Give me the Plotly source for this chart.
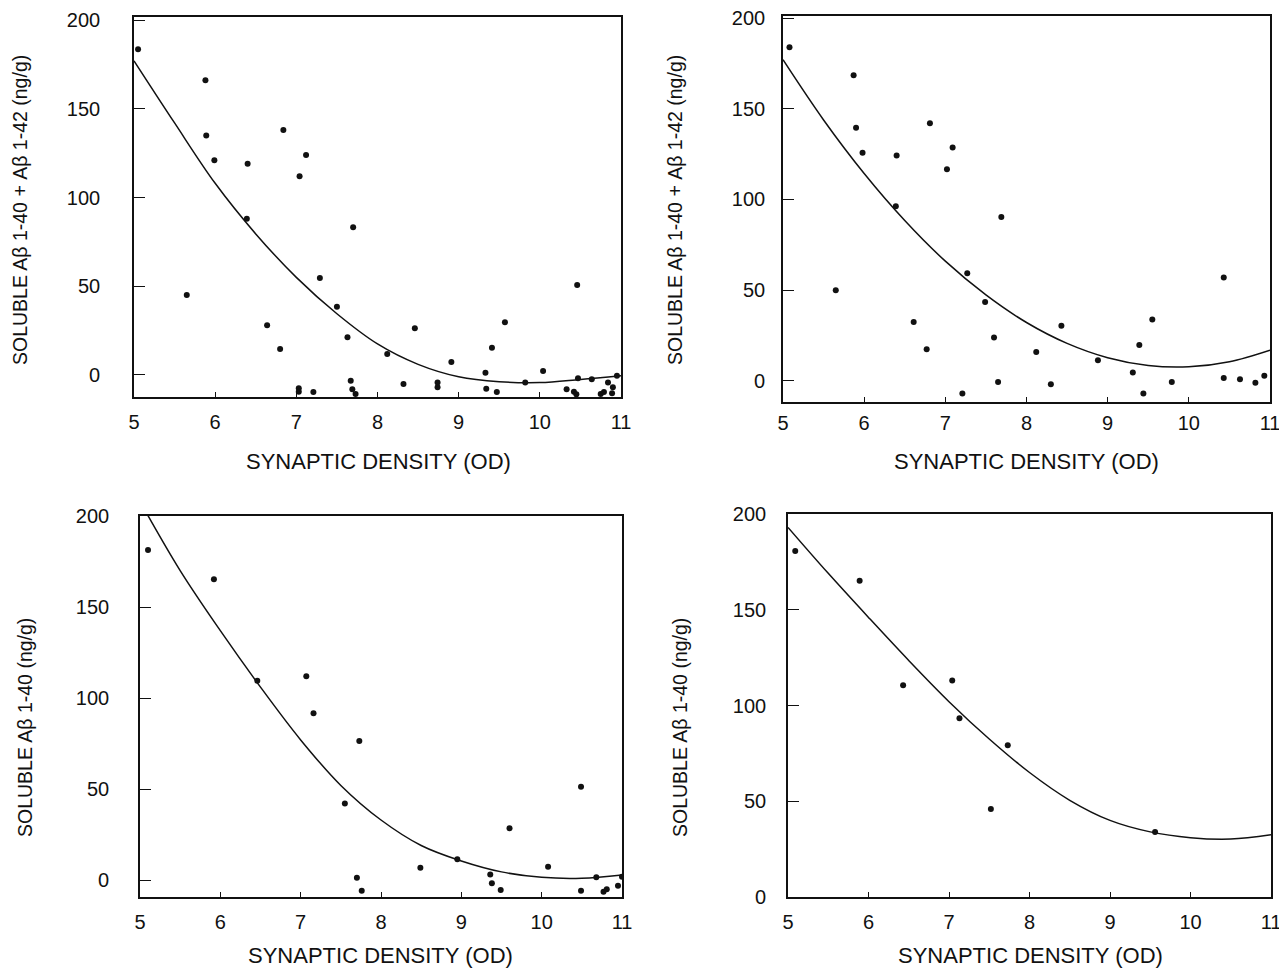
import plotly.graph_objects as go

# ---------------- data ----------------
# Panel 1: soluble Ab1-40 + Ab1-42 (all cases)
p1_x = [5.05, 5.65, 5.88, 5.89, 5.99, 6.40, 6.39, 6.64, 6.80, 6.84, 7.04, 7.12,
        7.03, 7.03, 7.21, 7.29, 7.50, 7.63, 7.67, 7.69, 7.73, 7.70, 8.12, 8.32,
        8.46, 8.74, 8.74, 8.91, 9.33, 9.34, 9.41, 9.47, 9.57, 9.82, 10.04, 10.33,
        10.42, 10.45, 10.46, 10.47, 10.64, 10.75, 10.79, 10.84, 10.89, 10.90, 10.95]
p1_y = [183.5, 45, 166, 135, 121, 119, 88, 28, 14.6, 138, 112, 124,
        -7.5, -9.5, -9.6, 54.6, 38.5, 21.2, -3.2, -8.1, -10.7, 83.2, 11.8, -5.1,
        26.3, -4.3, -6.9, 7.3, 1.3, -7.7, 15.4, -9.6, 29.7, -4.3, 2.3, -8.1,
        -9.4, -10.9, 50.7, -1.9, -2.4, -10.7, -9.6, -4.3, -10.3, -6.9, -0.4]
p1_fit_x = [5, 5.5, 6, 6.5, 7, 7.5, 8, 8.5, 9, 9.5, 10, 10.5, 11]
p1_fit_y = [177, 142, 108, 79.5, 55, 34.5, 17.5, 6, -1, -3.8, -4.3, -2.5, -0.4]

# Panel 2: soluble Ab1-40 + Ab1-42
p2_x = [5.08, 5.87, 5.90, 5.98, 6.40, 6.39, 5.65, 6.81, 7.09, 7.02, 7.69, 7.27,
        7.49, 6.61, 6.77, 7.60, 8.43, 8.12, 8.88, 9.55, 9.39, 9.31, 9.79, 10.43,
        10.43, 10.63, 10.82, 10.93, 7.65, 7.21, 8.30, 9.44]
p2_y = [183.9, 168.4, 139.5, 125.8, 124.2, 96.3, 50, 142, 128.6, 116.7, 90.4, 59.3,
        43.5, 32.5, 17.5, 23.9, 30.4, 15.9, 11.4, 33.9, 19.8, 4.7, -0.6, 57,
        1.6, 1, -1, 2.9, -0.6, -6.9, -1.8, -6.9]
p2_fit_x = [5, 5.5, 6, 6.5, 7, 7.5, 8, 8.5, 9, 9.5, 10, 10.5, 11]
p2_fit_y = [177, 143.8, 114.3, 88.4, 66, 47.4, 32.2, 20.7, 12.8, 8.5, 7.8, 10.6, 17]

# Panel 3: soluble Ab1-40
p3_x = [5.10, 5.92, 6.46, 7.07, 7.16, 7.73, 7.55, 7.70, 7.76, 8.49, 8.95, 9.60,
        9.36, 9.38, 9.49, 10.08, 10.49, 10.49, 10.68, 10.77, 10.81, 10.95, 11.0]
p3_y = [181.3, 165.2, 109.5, 112, 91.6, 76.4, 42.1, 1.3, -5.9, 6.8, 11.4, 28.4,
        3.1, -1.8, -5.5, 7.3, 51.3, -5.9, 1.5, -6.4, -5.1, -3.1, 1.8]
p3_fit_x = [5, 5.5, 6, 6.5, 7, 7.5, 8, 8.5, 9, 9.5, 10, 10.5, 11]
p3_fit_y = [208, 170, 137, 106, 77, 52, 33, 19, 10.5, 4.5, 1.5, 1, 2.8]

# Panel 4: soluble Ab1-40
p4_x = [5.09, 5.89, 6.43, 7.04, 7.13, 7.73, 7.52, 9.56]
p4_y = [180.7, 165.2, 110.6, 113, 93.4, 79.3, 45.9, 33.9]
p4_fit_x = [5, 5.5, 6, 6.5, 7, 7.5, 8, 8.5, 9, 9.5, 10, 10.5, 11]
p4_fit_y = [193, 169, 146, 123.5, 102, 82.5, 65, 50.5, 40, 34, 31, 30.3, 32.5]

x_ticks = [5, 6, 7, 8, 9, 10, 11]
y_ticks = [0, 50, 100, 150, 200]
x_title = "SYNAPTIC DENSITY (OD)"
y_title_sum = "SOLUBLE Aβ 1-40 + Aβ 1-42 (ng/g)"
y_title_40 = "SOLUBLE Aβ 1-40 (ng/g)"

# ---------------- figure ----------------
W, H = 1287, 970
OFF = 8          # the page body margin shifts the figure by this many pixels
FONT = "Liberation Sans, Arial, sans-serif"
INK = "#111111"


def fx_(px):
    return (px - OFF) / W


def fy_(py):
    return 1 - (py - OFF) / H


panels = [
    # (xs, ys, fit x, fit y, x px span, y px span (top,bottom), y range, ylabel standoff, xlabel standoff)
    (p1_x, p1_y, p1_fit_x, p1_fit_y, (134, 621), (17, 397), (-12.4, 201.7), 28, 6),
    (p2_x, p2_y, p2_fit_x, p2_fit_y, (783, 1270), (16, 402), (-11.6, 201.1), 12, 2),
    (p3_x, p3_y, p3_fit_x, p3_fit_y, (140, 622), (516, 897), (-9.3, 200), 25, 6),
    (p4_x, p4_y, p4_fit_x, p4_fit_y, (788, 1271), (514, 897), (0, 200), 16, 6),
]
ytitle_pos = [(20, 210), (675, 210), (25, 728), (680, 728)]
xtitle_pos = [(378, 461), (1026, 461), (380, 955), (1030, 955)]

fig = go.Figure()
layout = {}
for i, (xs, ys, fx, fy, xd, yd, yr, ystand, xstand) in enumerate(panels, start=1):
    sfx = "" if i == 1 else str(i)
    fig.add_trace(go.Scatter(x=fx, y=fy, mode="lines", line=dict(color=INK, width=1.5, shape="spline"),
                             xaxis="x" + sfx, yaxis="y" + sfx, showlegend=False, hoverinfo="skip"))
    fig.add_trace(go.Scatter(x=xs, y=ys, mode="markers", marker=dict(color=INK, size=6),
                             xaxis="x" + sfx, yaxis="y" + sfx, showlegend=False))
    common = dict(showline=True, linecolor=INK, linewidth=1.6, mirror=True, showgrid=False,
                  zeroline=False, ticks="inside", tickcolor=INK, automargin=False,
                  ticklabeloverflow="allow",
                  tickfont=dict(family=FONT, size=20, color=INK))
    layout["xaxis" + sfx] = dict(common, domain=[fx_(xd[0]), fx_(xd[1])], range=[5, 11],
                                 tickvals=x_ticks, ticklen=5, anchor="y" + sfx,
                                 ticklabelstandoff=xstand)
    layout["yaxis" + sfx] = dict(common, domain=[fy_(yd[1]), fy_(yd[0])], range=list(yr),
                                 tickvals=y_ticks, ticklen=11, anchor="x" + sfx,
                                 ticklabelstandoff=ystand)

annotations = []
for (tx, ty), txt in zip(ytitle_pos, [y_title_sum, y_title_sum, y_title_40, y_title_40]):
    annotations.append(dict(x=fx_(tx), y=fy_(ty), xref="paper", yref="paper", text=txt,
                            textangle=-90, showarrow=False, xanchor="center", yanchor="middle",
                            font=dict(family=FONT, size=19.5, color=INK)))
for (tx, ty) in xtitle_pos:
    annotations.append(dict(x=fx_(tx), y=fy_(ty), xref="paper", yref="paper", text=x_title,
                            showarrow=False, xanchor="center", yanchor="middle",
                            font=dict(family=FONT, size=22, color=INK)))

fig.update_layout(**layout)
fig.update_layout(width=W, height=H, margin=dict(l=0, r=0, t=0, b=0, autoexpand=False),
                  paper_bgcolor="white", plot_bgcolor="white",
                  annotations=annotations, showlegend=False)

fig.write_html("out.html")
